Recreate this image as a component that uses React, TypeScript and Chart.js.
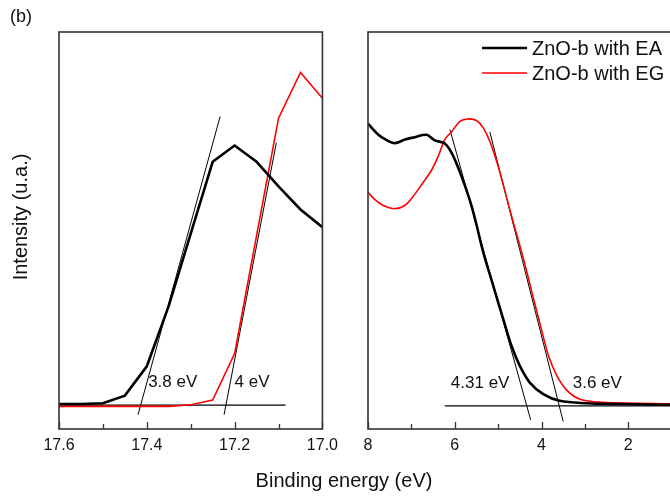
import React, { useEffect, useRef } from "react";
import { Chart, registerables } from "chart.js";

Chart.register(...registerables);

// ---------- Left panel data (Binding energy ~17 eV region) ----------
const leftEnergy = [17.6, 17.55, 17.5, 17.45, 17.4, 17.35, 17.3, 17.25, 17.2, 17.15, 17.1, 17.05, 17.0];
const leftEA = [6.3, 6.3, 6.5, 8.4, 15.8, 31.0, 49.2, 67.3, 71.4, 67.3, 61.1, 55.3, 50.8];
const leftEG = [5.7, 5.7, 5.7, 5.7, 5.7, 5.7, 6.1, 7.3, 19.0, 48.7, 78.3, 89.8, 83.3];
const leftTangentAE = [17.42, 17.233];
const leftTangentAV = [3.6, 78.7];
const leftTangentBE = [17.224, 17.105];
const leftTangentBV = [3.6, 72.1];
const leftBaselineE = [17.6, 17.084];
const leftBaselineV = [6.0, 6.0];
const leftMajorTicks = [17.6, 17.4, 17.2, 17.0];
const leftMinorTicks = [17.5, 17.3, 17.1];
const leftLabelText = ["3.8 eV", "4 eV"];
const leftLabelE = [17.397, 17.2];
const leftLabelV = [11.8, 11.8];

// ---------- Right panel data (valence band region) ----------
const rightEnergyEA = [8.0, 7.76, 7.61, 7.38, 7.15, 6.92, 6.65, 6.46, 6.23, 6.07, 5.92, 5.76, 5.61, 5.5, 5.34, 5.11, 4.88, 4.69, 4.5, 4.27, 3.96, 3.58, 2.96, 2.19, 1.0, 0.5];
const rightEA = [76.9, 74.1, 73.0, 72.0, 72.9, 73.5, 74.1, 72.7, 71.9, 69.5, 65.8, 61.1, 56.1, 51.5, 44.4, 36.0, 27.6, 20.9, 15.9, 11.7, 8.8, 7.1, 6.5, 6.3, 6.1, 6.1];
const rightEnergyEG = [8.0, 7.84, 7.61, 7.38, 7.15, 6.96, 6.76, 6.53, 6.38, 6.23, 6.07, 5.88, 5.69, 5.5, 5.34, 5.19, 5.0, 4.84, 4.65, 4.42, 4.19, 4.0, 3.84, 3.65, 3.42, 3.11, 2.57, 1.81, 1.0, 0.5];
const rightEG = [59.6, 57.8, 56.1, 55.5, 56.3, 58.6, 61.6, 65.3, 68.7, 72.9, 74.9, 77.5, 78.1, 77.7, 75.8, 72.4, 66.2, 59.8, 52.0, 43.0, 33.1, 25.0, 18.5, 13.5, 9.8, 7.5, 6.7, 6.5, 6.3, 6.3];
const rightTangentAE = [6.11, 4.25];
const rightTangentAV = [75.4, 2.3];
const rightTangentBE = [5.19, 3.5];
const rightTangentBV = [74.8, 1.9];
const rightBaselineE = [6.23, 0];
const rightBaselineV = [5.85, 5.85];
const rightMajorTicks = [8, 6, 4, 2, 0];
const rightMinorTicks = [7, 5, 3, 1];
const rightLabelText = ["4.31 eV", "3.6 eV"];
const rightLabelE = [6.09, 3.28];
const rightLabelV = [11.6, 11.6];

const seriesNames = ["ZnO-b with EA", "ZnO-b with EG"];

const FONT = '"Liberation Sans", Arial, sans-serif';

const pts = (xs: number[], ys: number[]) => xs.map((x, i) => ({ x, y: ys[i] }));

function makePlugin(major: number[], minor: number[], labels: string[], labE: number[], labV: number[], legend: boolean) {
  return {
    id: "frameDecor",
    afterDatasetsDraw(chart: any) {
      const { ctx, chartArea } = chart;
      const xs = chart.scales.x;
      const ys = chart.scales.y;
      ctx.save();
      ctx.strokeStyle = "#333";
      ctx.lineWidth = 1.6;
      ctx.strokeRect(chartArea.left, chartArea.top, chartArea.right - chartArea.left, chartArea.bottom - chartArea.top);
      ctx.lineWidth = 1.3;
      ctx.beginPath();
      major.forEach((v) => {
        const px = Math.round(xs.getPixelForValue(v)) + 0.5;
        ctx.moveTo(px, chartArea.bottom);
        ctx.lineTo(px, chartArea.bottom - 7);
      });
      minor.forEach((v) => {
        const px = Math.round(xs.getPixelForValue(v)) + 0.5;
        ctx.moveTo(px, chartArea.bottom);
        ctx.lineTo(px, chartArea.bottom - 5);
      });
      ctx.stroke();
      ctx.fillStyle = "#111";
      ctx.font = `17px ${FONT}`;
      ctx.textAlign = "left";
      ctx.textBaseline = "middle";
      labels.forEach((t, i) => {
        ctx.fillText(t, xs.getPixelForValue(labE[i]), ys.getPixelForValue(labV[i]));
      });
      if (legend) {
        const ds = chart.data.datasets.filter((d: any) => d.showInLegend);
        ds.forEach((d: any, i: number) => {
          const y = 48 + i * 25;
          ctx.strokeStyle = d.borderColor;
          ctx.lineWidth = d.borderWidth;
          ctx.beginPath();
          ctx.moveTo(chartArea.left + 114, y);
          ctx.lineTo(chartArea.left + 159, y);
          ctx.stroke();
          ctx.fillStyle = "#111";
          ctx.font = `20px ${FONT}`;
          ctx.textBaseline = "middle";
          ctx.fillText(d.label, chartArea.left + 164, y + 1);
        });
      }
      ctx.restore();
    },
  };
}

function baseOptions(min: number, max: number, ticks: number[], fmt: (v: number) => string, pad: any) {
  return {
    animation: false as const,
    responsive: false,
    devicePixelRatio: 1,
    layout: { padding: pad },
    plugins: { legend: { display: false }, tooltip: { enabled: false } },
    elements: { point: { radius: 0 } },
    scales: {
      x: {
        type: "linear" as const,
        min,
        max,
        reverse: true,
        grid: { display: false, drawTicks: false },
        border: { display: false },
        afterBuildTicks: (scale: any) => {
          scale.ticks = ticks.map((v) => ({ value: v }));
        },
        afterFit: (scale: any) => {
          scale.height = 70;
        },
        ticks: {
          padding: 7,
          color: "#111",
          font: { family: FONT, size: 16 },
          maxRotation: 0,
          autoSkip: false,
          callback: (v: any) => fmt(Number(v)),
        },
      },
      y: { display: false, min: 0, max: 100 },
    },
  };
}

export default function App() {
  const leftRef = useRef<HTMLCanvasElement>(null);
  const rightRef = useRef<HTMLCanvasElement>(null);

  useEffect(() => {
    const left = new Chart(leftRef.current as HTMLCanvasElement, {
      type: "line",
      data: {
        datasets: [
          { label: seriesNames[0], data: pts(leftEnergy, leftEA), borderColor: "#000", borderWidth: 2.6, tension: 0 },
          { label: seriesNames[1], data: pts(leftEnergy, leftEG), borderColor: "#ff0000", borderWidth: 1.6, tension: 0 },
          { label: "t1", data: pts(leftTangentAE, leftTangentAV), borderColor: "#000", borderWidth: 1 },
          { label: "t2", data: pts(leftTangentBE, leftTangentBV), borderColor: "#000", borderWidth: 1 },
          { label: "b", data: pts(leftBaselineE, leftBaselineV), borderColor: "#000", borderWidth: 1.2 },
        ],
      },
      options: baseOptions(17.0, 17.6, leftMajorTicks, (v) => v.toFixed(1), { top: 32, left: 59, right: 18, bottom: 0 }) as any,
      plugins: [makePlugin(leftMajorTicks, leftMinorTicks, leftLabelText, leftLabelE, leftLabelV, false)],
    });
    const right = new Chart(rightRef.current as HTMLCanvasElement, {
      type: "line",
      data: {
        datasets: [
          { label: seriesNames[0], data: pts(rightEnergyEA, rightEA), borderColor: "#000", borderWidth: 2.6, tension: 0.35, showInLegend: true } as any,
          { label: seriesNames[1], data: pts(rightEnergyEG, rightEG), borderColor: "#ff0000", borderWidth: 1.6, tension: 0.35, showInLegend: true } as any,
          { label: "t1", data: pts(rightTangentAE, rightTangentAV), borderColor: "#000", borderWidth: 1 },
          { label: "t2", data: pts(rightTangentBE, rightTangentBV), borderColor: "#000", borderWidth: 1 },
          { label: "b", data: pts(rightBaselineE, rightBaselineV), borderColor: "#000", borderWidth: 1.2 },
        ],
      },
      options: baseOptions(0, 8, rightMajorTicks, (v) => String(v), { top: 32, left: 28, right: 25, bottom: 0 }) as any,
      plugins: [makePlugin(rightMajorTicks, rightMinorTicks, rightLabelText, rightLabelE, rightLabelV, true)],
    });
    return () => {
      left.destroy();
      right.destroy();
    };
  }, []);

  const text: React.CSSProperties = {
    position: "absolute",
    fontFamily: FONT,
    color: "#111",
    lineHeight: 1,
    whiteSpace: "nowrap",
  };

  return (
    <div style={{ position: "fixed", left: 0, top: 0, width: 670, height: 499, overflow: "hidden", background: "#fff" }}>
      <canvas ref={leftRef} width={345} height={499} style={{ position: "absolute", left: 0, top: 0 }} />
      <canvas ref={rightRef} width={400} height={499} style={{ position: "absolute", left: 340, top: 0 }} />
      <div style={{ ...text, left: 10, top: 7, fontSize: 18 }}>(b)</div>
      <div style={{ ...text, left: 344, top: 480, fontSize: 20, transform: "translate(-50%, -50%)" }}>Binding energy (eV)</div>
      <div style={{ ...text, left: 20, top: 217, fontSize: 20, transform: "translate(-50%, -50%) rotate(-90deg)" }}>Intensity (u.a.)</div>
    </div>
  );
}
